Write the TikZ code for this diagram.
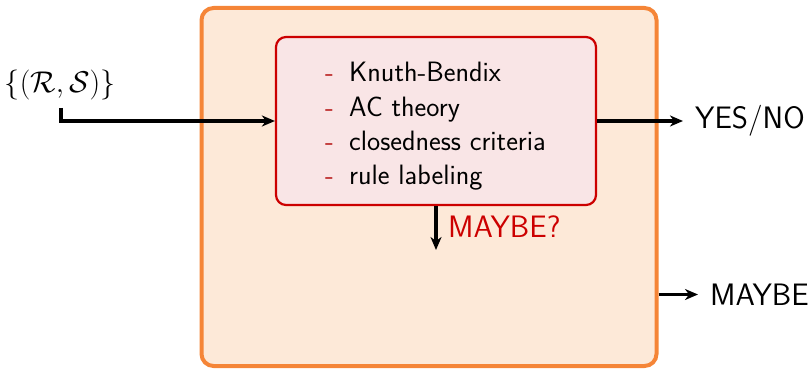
\RequirePackage{fix-cm}
\documentclass[tikz,border=0pt]{standalone}
\usetikzlibrary{arrows.meta}
\definecolor{outerfill}{RGB}{253,233,216}
\definecolor{outerline}{RGB}{245,133,55}
\definecolor{innerfill}{RGB}{249,229,230}
\definecolor{innerline}{RGB}{204,0,0}
\definecolor{dashcol}{RGB}{185,30,30}
\tikzset{
  outerbox/.style={draw=outerline, fill=outerfill, line width=4pt, rounded corners=12pt,
    minimum width=455pt, minimum height=358pt, inner sep=0pt},
  innerbox/.style={draw=innerline, fill=innerfill, line width=2.2pt, rounded corners=10pt,
    minimum width=320pt, minimum height=168pt, inner sep=0pt},
  bigtext/.style={font=\sffamily\fontsize{31}{36}\selectfont, inner sep=0pt},
  itemtext/.style={font=\sffamily\fontsize{28}{32}\selectfont, inner sep=0pt, anchor=base west},
  flow/.style={line width=3.1pt, -{Stealth[length=13pt,width=11pt,inset=4pt]}},
}
\newcommand{\itm}[1]{\makebox[24pt][l]{\textcolor{dashcol}{-}}#1}
\begin{document}
\begin{tikzpicture}[x=1pt,y=-1pt]
\useasboundingbox (0,0) rectangle (810,371);
\node[outerbox] (outer) at (429,187) {};
\node[innerbox] (proc) at (436,121) {};
\node[itemtext] (i1) at (325,81.7) {\itm{Knuth-Bendix}};
\node[itemtext] (i2) at (325,117.0) {\itm{AC theory}};
\node[itemtext] (i3) at (325,150.5) {\itm{closedness criteria}};
\node[itemtext] (i4) at (325,185) {\itm{rule labeling}};
\node[bigtext, anchor=base, font=\fontsize{30}{36}\selectfont] (inp) at (60,93) {$\{(\mathcal{R},\mathcal{S})\}$};
\node[bigtext, anchor=base west] (yes) at (695,128.5) {YES/NO};
\node[bigtext, anchor=west, text=innerline] (mq) at (448,227) {MAYBE?};
\node[bigtext, anchor=west] (maybe) at (710,294.5) {MAYBE};
\coordinate (instart) at (61,108);
\coordinate (mend) at (436,250);
\draw[flow] (instart) |- (proc.west);
\draw[flow, shorten >=12pt] (proc.east) -- (proc.east -| yes.west);
\draw[flow] (proc.south) -- (mend);
\draw[flow, shorten >=12pt] (outer.east |- maybe.west) -- (maybe.west);
\end{tikzpicture}
\end{document}
